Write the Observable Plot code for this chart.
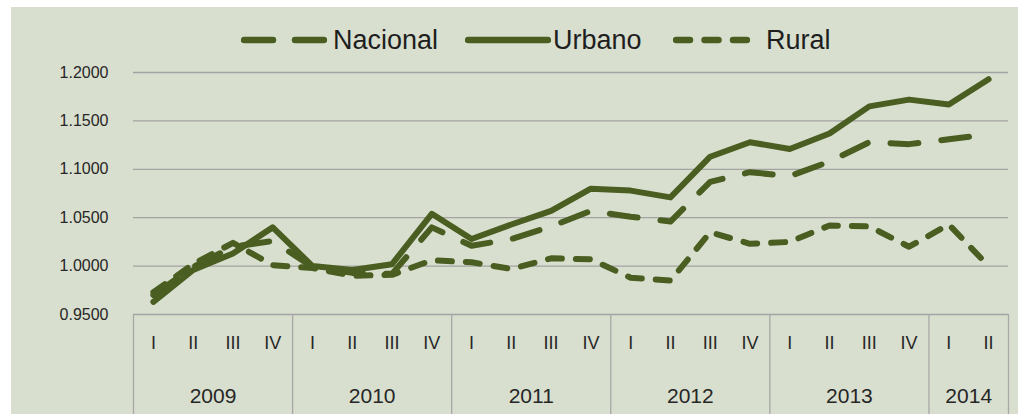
<!DOCTYPE html>
<html><head><meta charset="utf-8">
<script src="https://cdn.jsdelivr.net/npm/d3@7"></script>
<script src="https://cdn.jsdelivr.net/npm/@observablehq/plot@0.6"></script>
<style>
html,body{margin:0;padding:0;background:#fff;}
#wrap{position:absolute;left:11px;top:7px;width:1007px;height:407px;background:#d9dfcf;overflow:hidden;font-family:"Liberation Sans",Arial,Helvetica,sans-serif;}
#legend{position:relative;height:50px;}
.item{position:absolute;top:0;height:66px;display:flex;align-items:center;font-size:27px;color:#1e1e1e;white-space:nowrap;}
.item svg{display:block;}
#chart svg{display:block;}
</style></head><body>
<div id="wrap"><div id="legend"></div><div id="chart"></div></div>
<script>
// ---- data ----
const quarters = ["I","II","III","IV","I","II","III","IV","I","II","III","IV","I","II","III","IV","I","II","III","IV","I","II"];
const years = ["2009","2010","2011","2012","2013","2014"];
const quartersPerYear = [4,4,4,4,4,2];
const nacional = [0.970,0.999,1.020,1.026,0.999,0.993,0.992,1.040,1.021,1.028,1.041,1.057,1.051,1.046,1.087,1.097,1.093,1.108,1.128,1.126,1.131,1.136];
const urbano   = [0.963,0.996,1.013,1.040,1.000,0.996,1.002,1.054,1.028,1.043,1.057,1.080,1.078,1.071,1.113,1.128,1.121,1.137,1.165,1.172,1.167,1.193];
const rural    = [0.973,1.002,1.024,1.001,0.998,0.990,0.991,1.006,1.004,0.997,1.008,1.007,0.988,0.985,1.035,1.023,1.025,1.042,1.041,1.020,1.043,1.000];
const yTicks = [0.95,1.00,1.05,1.10,1.15,1.20];
const seriesNames = ["Nacional","Urbano","Rural"];

// ---- styles ----
const color = "#4a5e22";
const dash = {Nacional: "28,23", Urbano: null, Rural: "14,14"};

// ---- legend ----
const legendSpec = [
  {name: "Nacional", left: 230, w: 86, gap: 6},
  {name: "Urbano", left: 454, w: 86, gap: 2},
  {name: "Rural", left: 662, w: 77, gap: 16}
];
const legend = document.getElementById("legend");
legendSpec.forEach(s => {
  const div = document.createElement("div");
  div.className = "item";
  div.style.left = s.left + "px";
  const sw = d3.create("svg").attr("width", s.w).attr("height", 10);
  const ln = sw.append("line").attr("x1", 3).attr("x2", s.w - 3).attr("y1", 5).attr("y2", 5)
    .attr("stroke", color).attr("stroke-width", 6.5).attr("stroke-linecap", "round");
  if (dash[s.name]) ln.attr("stroke-dasharray", s.name === "Rural" ? "14,14.5" : "29,22");
  div.appendChild(sw.node());
  const t = document.createElement("span");
  t.textContent = s.name;
  t.style.marginLeft = s.gap + "px";
  div.appendChild(t);
  legend.appendChild(div);
});

// ---- chart ----
const rows = quarters.map((q, i) => ({i, q, Nacional: nacional[i], Urbano: urbano[i], Rural: rural[i]}));
const boundaries = [-0.5];
const yearRows = [];
let acc = -0.5;
years.forEach((y, k) => {
  yearRows.push({y, c: acc + quartersPerYear[k] / 2});
  acc += quartersPerYear[k];
  boundaries.push(acc);
});

const lineMark = name => Plot.line(rows, {
  x: "i", y: name, stroke: color, strokeWidth: 6,
  strokeLinecap: "round", strokeLinejoin: "round",
  ...(dash[name] ? {strokeDasharray: dash[name]} : {})
});

const chart = Plot.plot({
  width: 1007, height: 357,
  marginTop: 15, marginBottom: 100, marginLeft: 122, marginRight: 10,
  style: {background: "transparent", fontFamily: "'Liberation Sans', Arial, Helvetica, sans-serif", fontSize: "16px", color: "#262626", overflow: "visible"},
  x: {domain: [-0.5, quarters.length - 0.5], axis: null},
  y: {domain: [0.95, 1.2], ticks: yTicks, tickFormat: d3.format(".4f"), tickSize: 0, tickPadding: 25, label: null},
  marks: [
    Plot.ruleY(yTicks, {stroke: "#a3a3a3", strokeWidth: 1.3}),
    Plot.ruleX(boundaries, {stroke: "#a8a8a8", strokeWidth: 1.3, insetTop: 242, insetBottom: -100}),
    lineMark("Rural"),
    lineMark("Nacional"),
    lineMark("Urbano"),
    Plot.text(rows, {x: "i", text: "q", frameAnchor: "bottom", dy: 34, fontSize: 18, fill: "#262626"}),
    Plot.text(yearRows, {x: "c", text: "y", frameAnchor: "bottom", dy: 88, fontSize: 21, fill: "#262626"})
  ]
});
document.getElementById("chart").appendChild(chart);
</script>
</body></html>
